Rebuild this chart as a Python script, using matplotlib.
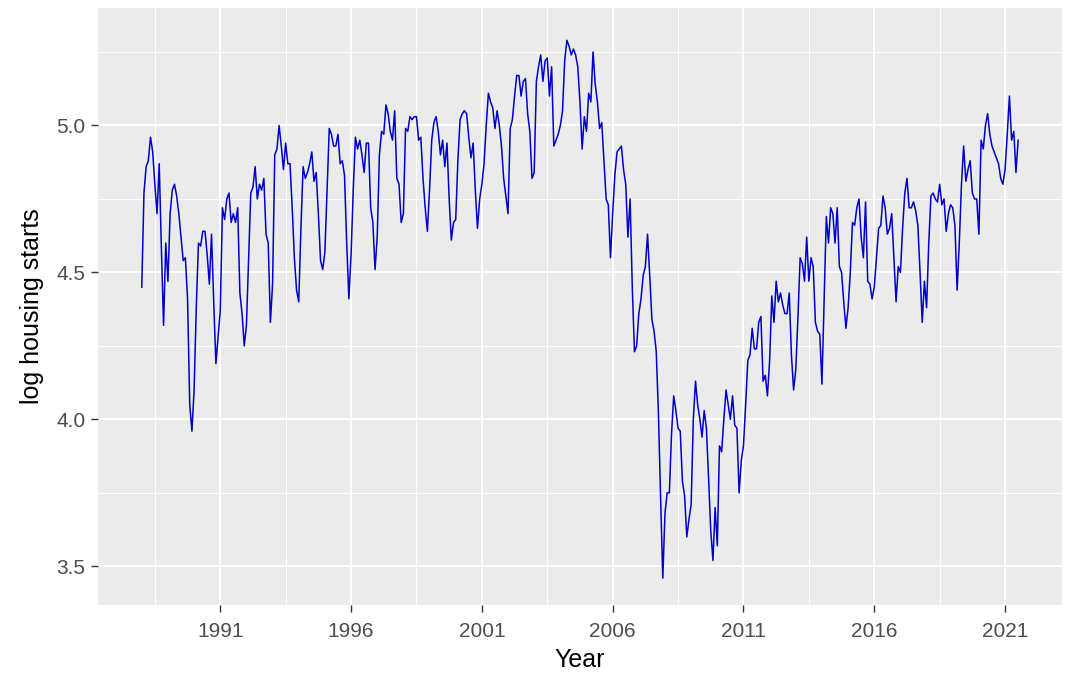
import numpy as np
import matplotlib
matplotlib.use("Agg")
import matplotlib.pyplot as plt
from matplotlib.ticker import FixedLocator

plt.rcParams['font.family'] = ['Liberation Sans', 'DejaVu Sans']

# monthly log housing starts, Jan 1988 onwards
y1988 = [4.45, 4.77, 4.86, 4.88, 4.96, 4.91, 4.80, 4.70, 4.87, 4.58, 4.32, 4.60]
y1989 = [4.47, 4.70, 4.78, 4.80, 4.76, 4.70, 4.62, 4.54, 4.55, 4.41, 4.05, 3.96]
y1990 = [4.10, 4.38, 4.60, 4.59, 4.64, 4.64, 4.56, 4.46, 4.63, 4.40, 4.19, 4.28]
y1991 = [4.37, 4.72, 4.68, 4.75, 4.77, 4.67, 4.70, 4.67, 4.72, 4.43, 4.36, 4.25]
y1992 = [4.32, 4.55, 4.77, 4.79, 4.86, 4.75, 4.80, 4.78, 4.82, 4.63, 4.60, 4.33]
y1993 = [4.46, 4.90, 4.92, 5.00, 4.93, 4.85, 4.94, 4.87, 4.87, 4.72, 4.55, 4.44]
y1994 = [4.40, 4.65, 4.86, 4.82, 4.84, 4.87, 4.91, 4.81, 4.84, 4.70, 4.54, 4.51]
y1995 = [4.57, 4.78, 4.99, 4.97, 4.93, 4.93, 4.97, 4.87, 4.88, 4.83, 4.60, 4.41]
y1996 = [4.56, 4.78, 4.96, 4.92, 4.95, 4.90, 4.84, 4.94, 4.94, 4.72, 4.67, 4.51]
y1997 = [4.62, 4.90, 4.98, 4.97, 5.07, 5.04, 4.98, 4.95, 5.05, 4.82, 4.80, 4.67]
y1998 = [4.70, 4.99, 4.98, 5.03, 5.02, 5.03, 5.03, 4.95, 4.96, 4.82, 4.72, 4.64]
y1999 = [4.78, 4.95, 5.01, 5.03, 4.98, 4.90, 4.95, 4.86, 4.94, 4.75, 4.61, 4.67]
y2000 = [4.68, 4.88, 5.02, 5.04, 5.05, 5.04, 4.96, 4.89, 4.94, 4.78, 4.65, 4.75]
y2001 = [4.80, 4.87, 5.00, 5.11, 5.08, 5.06, 4.99, 5.05, 5.00, 4.93, 4.82, 4.76]
y2002 = [4.70, 4.99, 5.02, 5.10, 5.17, 5.17, 5.10, 5.15, 5.16, 5.04, 4.98, 4.82]
y2003 = [4.84, 5.15, 5.20, 5.24, 5.15, 5.22, 5.23, 5.10, 5.20, 4.93, 4.95, 4.97]
y2004 = [5.00, 5.05, 5.22, 5.29, 5.27, 5.24, 5.26, 5.24, 5.20, 5.08, 4.92, 5.03]
y2005 = [4.98, 5.11, 5.08, 5.25, 5.14, 5.08, 4.99, 5.01, 4.88, 4.75, 4.73, 4.55]
y2006 = [4.70, 4.83, 4.91, 4.92, 4.93, 4.85, 4.80, 4.62, 4.75, 4.45, 4.23, 4.25]
y2007 = [4.36, 4.41, 4.49, 4.52, 4.63, 4.49, 4.34, 4.30, 4.23, 4.02, 3.73, 3.46]
y2008 = [3.68, 3.75, 3.75, 3.95, 4.08, 4.03, 3.97, 3.96, 3.79, 3.74, 3.60, 3.66]
y2009 = [3.71, 4.00, 4.13, 4.05, 4.00, 3.94, 4.03, 3.97, 3.80, 3.62, 3.52, 3.70]
y2010 = [3.57, 3.91, 3.89, 4.00, 4.10, 4.05, 4.00, 4.08, 3.98, 3.97, 3.75, 3.86]
y2011 = [3.91, 4.05, 4.20, 4.22, 4.31, 4.24, 4.24, 4.33, 4.35, 4.13, 4.15, 4.08]
y2012 = [4.20, 4.42, 4.33, 4.47, 4.40, 4.43, 4.39, 4.36, 4.36, 4.43, 4.22, 4.10]
y2013 = [4.17, 4.35, 4.55, 4.53, 4.47, 4.62, 4.47, 4.55, 4.52, 4.33, 4.30, 4.29]
y2014 = [4.12, 4.40, 4.69, 4.60, 4.72, 4.70, 4.60, 4.72, 4.52, 4.50, 4.40, 4.31]
y2015 = [4.38, 4.50, 4.67, 4.66, 4.72, 4.75, 4.62, 4.55, 4.74, 4.47, 4.46, 4.41]
y2016 = [4.45, 4.55, 4.65, 4.66, 4.76, 4.72, 4.63, 4.65, 4.70, 4.55, 4.40, 4.52]
y2017 = [4.50, 4.65, 4.77, 4.82, 4.72, 4.72, 4.74, 4.71, 4.66, 4.50, 4.33, 4.47]
y2018 = [4.38, 4.60, 4.76, 4.77, 4.75, 4.74, 4.80, 4.73, 4.75, 4.64, 4.70, 4.73]
y2019 = [4.72, 4.66, 4.44, 4.60, 4.80, 4.93, 4.81, 4.85, 4.88, 4.77, 4.75, 4.75]
y2020 = [4.63, 4.95, 4.92, 5.00, 5.04, 4.97, 4.93, 4.91, 4.89, 4.87, 4.82, 4.80]
y2021 = [4.85, 4.97, 5.10, 4.95, 4.98, 4.84, 4.95]

starts = (y1988 + y1989 + y1990 + y1991 + y1992 + y1993 + y1994 + y1995 + y1996
          + y1997 + y1998 + y1999 + y2000 + y2001 + y2002 + y2003 + y2004 + y2005
          + y2006 + y2007 + y2008 + y2009 + y2010 + y2011 + y2012 + y2013 + y2014
          + y2015 + y2016 + y2017 + y2018 + y2019 + y2020 + y2021)
year = 1988 + np.arange(len(starts)) / 12

x_breaks = [1991, 1996, 2001, 2006, 2011, 2016, 2021]
y_breaks = [3.5, 4.0, 4.5, 5.0]

fig = plt.figure(figsize=(10.8, 6.93), dpi=100)
ax = fig.add_axes([0.0907, 0.127, 0.8926, 0.8615])
ax.set_facecolor("#EBEBEB")

ax.plot(year, starts, color="#0000CD", lw=1.1, zorder=3)

# ggplot style limits (5% expansion)
xr = year[-1] - year[0]
ax.set_xlim(year[0] - 0.05 * xr, year[-1] + 0.05 * xr)
yr = max(starts) - min(starts)
ax.set_ylim(min(starts) - 0.05 * yr, max(starts) + 0.06 * yr)

ax.xaxis.set_major_locator(FixedLocator(x_breaks))
ax.xaxis.set_minor_locator(FixedLocator([b - 2.5 for b in x_breaks] + [2023.5]))
ax.yaxis.set_major_locator(FixedLocator(y_breaks))
ax.yaxis.set_minor_locator(FixedLocator([3.25, 3.75, 4.25, 4.75, 5.25]))
ax.set_xticklabels([str(b) for b in x_breaks])
ax.set_yticklabels(["%.1f" % b for b in y_breaks])

ax.grid(which="major", color="white", lw=1.4)
ax.grid(which="minor", color="white", lw=0.7)
ax.set_axisbelow(True)
for s in ax.spines.values():
    s.set_visible(False)

ax.tick_params(which="major", length=5, width=1.0, color="#333333",
               labelsize=15, labelcolor="#4D4D4D", pad=4)
ax.tick_params(axis="x", which="major", pad=7)
ax.tick_params(which="minor", length=0)

ax.set_xlabel("Year", fontsize=18, color="black", labelpad=5)
ax.set_ylabel("log housing starts", fontsize=18, color="black", labelpad=9)

fig.savefig("out.png", dpi=100)
